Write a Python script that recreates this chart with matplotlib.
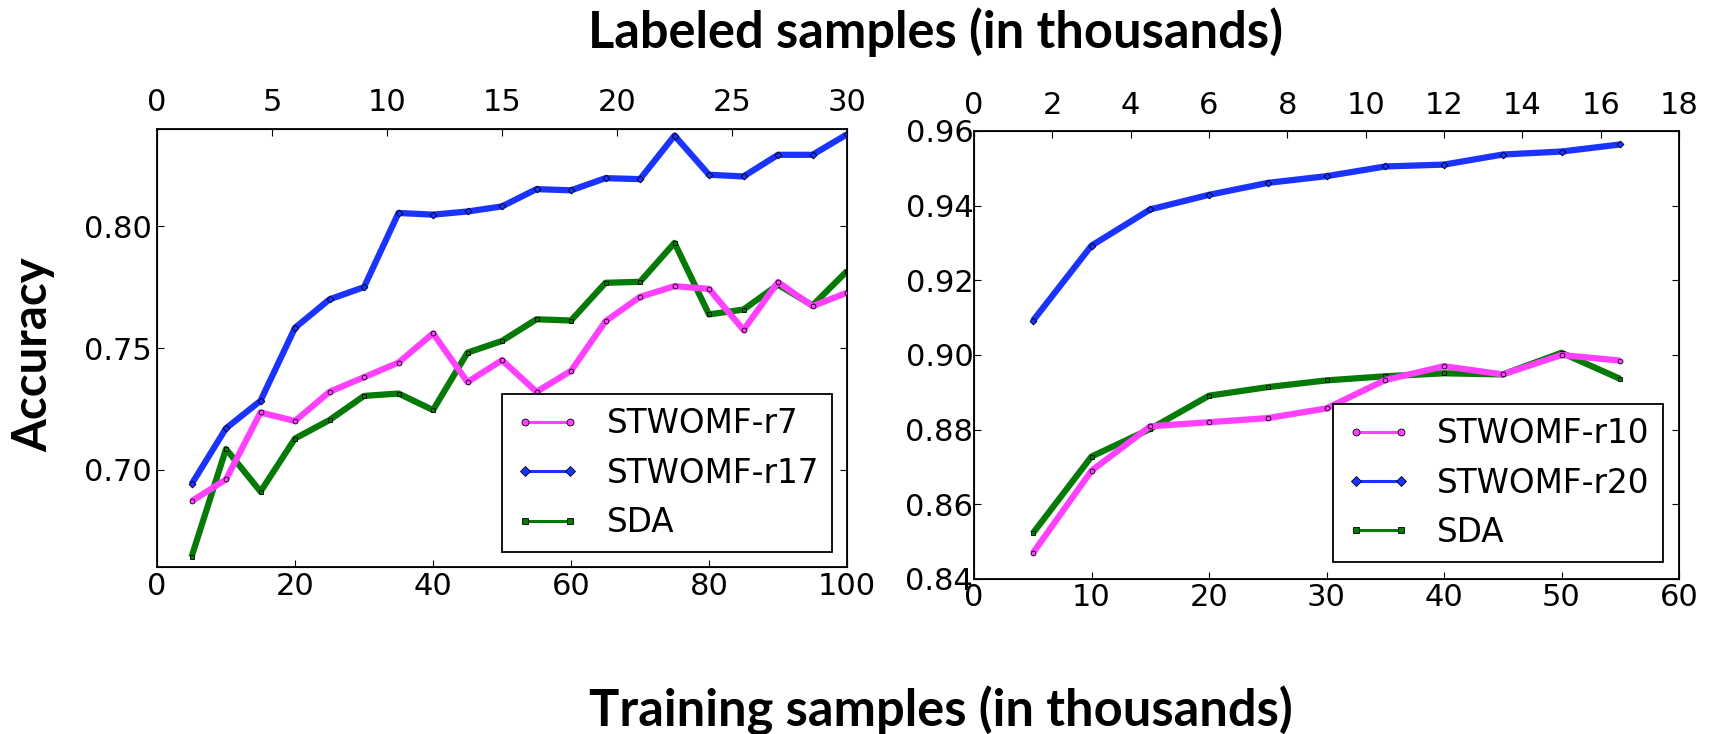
import matplotlib
matplotlib.use('Agg')
import matplotlib.pyplot as plt
from matplotlib.lines import Line2D

# ---------------- data ----------------
# Left panel: training samples (thousands)
train_left = [5, 10, 15, 20, 25, 30, 35, 40, 45, 50, 55, 60, 65, 70, 75, 80, 85, 90, 95, 100]
r7 = [0.687, 0.696, 0.7235, 0.720, 0.732, 0.738, 0.744, 0.756, 0.736, 0.745,
      0.732, 0.7406, 0.761, 0.771, 0.7754, 0.7743, 0.7574, 0.7771, 0.7672, 0.7727]
r17 = [0.694, 0.717, 0.7283, 0.7583, 0.770, 0.775, 0.8055, 0.8048, 0.8061, 0.8082,
       0.8153, 0.8148, 0.8198, 0.8194, 0.8373, 0.8212, 0.8205, 0.8294, 0.8294, 0.8378]
sda_left = [0.6641, 0.7085, 0.691, 0.7128, 0.7204, 0.7303, 0.7313, 0.7245, 0.7481, 0.7529,
            0.7618, 0.7613, 0.7768, 0.7772, 0.7932, 0.7638, 0.7658, 0.776, 0.7675, 0.7816]
left_labels = ['STWOMF-r7', 'STWOMF-r17', 'SDA']
left_yticks = [0.70, 0.75, 0.80]
left_top_ticks = [0, 5, 10, 15, 20, 25, 30]
left_bottom_ticks = [0, 20, 40, 60, 80, 100]

# Right panel
train_right = [5, 10, 15, 20, 25, 30, 35, 40, 45, 50, 55]
r10 = [0.8469, 0.869, 0.8809, 0.882, 0.8831, 0.8857, 0.8933, 0.897, 0.8948, 0.900, 0.8985]
r20 = [0.9091, 0.9293, 0.939, 0.9429, 0.9461, 0.9479, 0.9505, 0.951, 0.9537, 0.9545, 0.9564]
sda_right = [0.8522, 0.8728, 0.8802, 0.8891, 0.8914, 0.8932, 0.8943, 0.8951, 0.8948, 0.9006, 0.8936]
right_labels = ['STWOMF-r10', 'STWOMF-r20', 'SDA']
right_yticks = [0.84, 0.86, 0.88, 0.90, 0.92, 0.94, 0.96]
right_top_ticks = [0, 2, 4, 6, 8, 10, 12, 14, 16, 18]
right_bottom_ticks = [0, 10, 20, 30, 40, 50, 60]

title_top = 'Labeled samples (in thousands)'
title_bottom = 'Training samples (in thousands)'
ylabel = 'Accuracy'

# ---------------- style ----------------
C_MAG = '#ff40ff'
C_BLUE = '#1a33ff'
C_GREEN = '#067a06'
LW = 4.5
MS = 3.5
TICK_FS = 22
LEG_FS = 23.5

W, H = 1721, 734
fig = plt.figure(figsize=(W / 100, H / 100), dpi=100)
fig.patch.set_facecolor('white')


def px_axes(x0, y0, x1, y1):
    return fig.add_axes([x0 / W, 1 - y1 / H, (x1 - x0) / W, (y1 - y0) / H])


def style_axes(ax, ypad, bpad):
    for s in ax.spines.values():
        s.set_linewidth(1.3)
    ax.tick_params(axis='both', direction='in', length=5, width=0.8,
                   labelsize=TICK_FS, top=False, right=True)
    ax.tick_params(axis='y', pad=ypad)
    ax.tick_params(axis='x', pad=bpad)


def panel(ax, x, series, labels, colors, markers, zorders):
    for y, lab, c, m, z in zip(series, labels, colors, markers, zorders):
        ax.plot(x, y, color=c, lw=LW, marker=m, ms=MS, mfc=c, mec='black',
                mew=0.6, zorder=z, solid_capstyle='butt')
    handles = [Line2D([0], [0], color=c, lw=2.2, marker=m, ms=5, mfc=c,
                      mec='black', mew=0.6) for c, m in zip(colors, markers)]
    return handles


def make_legend(ax, handles, labels, anchor):
    leg = ax.legend(handles, labels, loc='lower right', bbox_to_anchor=anchor,
                    borderaxespad=0, fontsize=LEG_FS, numpoints=2, handlelength=2.0,
                    handletextpad=0.8, borderpad=0.4, labelspacing=0.5, fancybox=False,
                    framealpha=1)
    leg.get_frame().set_edgecolor('black')
    leg.get_frame().set_linewidth(1.3)
    leg.set_zorder(10)
    return leg


colors = [C_MAG, C_BLUE, C_GREEN]
markers = ['o', 'D', 's']
zorders = [4, 3, 2]

# ---- left panel ----
axL = px_axes(157, 129, 847, 567)
hL = panel(axL, train_left, [r7, r17, sda_left], left_labels, colors, markers, zorders)
axL.set_xlim(0, 100)
axL.set_ylim(0.66, 0.84)
axL.set_yticks(left_yticks)
axL.set_yticklabels(['%.2f' % v for v in left_yticks])
axL.set_xticks(left_bottom_ticks)
style_axes(axL, ypad=4, bpad=3.5)
make_legend(axL, hL, left_labels, (0.978, 0.034))
topL = axL.twiny()
topL.set_xlim(0, 30)
topL.set_xticks(left_top_ticks)
topL.tick_params(axis='x', direction='in', length=5, width=0.8, labelsize=TICK_FS, pad=8.5)

# ---- right panel ----
axR = px_axes(974, 131, 1679, 579)
hR = panel(axR, train_right, [r10, r20, sda_right], right_labels, colors, markers, zorders)
axR.set_xlim(0, 60)
axR.set_ylim(0.84, 0.96)
axR.set_yticks(right_yticks)
axR.set_yticklabels(['%.2f' % v for v in right_yticks])
axR.set_xticks(right_bottom_ticks)
style_axes(axR, ypad=0.5, bpad=3)
make_legend(axR, hR, right_labels, (0.977, 0.038))
topR = axR.twiny()
topR.set_xlim(0, 18)
topR.set_xticks(right_top_ticks)
topR.tick_params(axis='x', direction='in', length=5, width=0.8, labelsize=TICK_FS, pad=8)

# ---- figure-level texts ----
tfont = dict(family='Lato', weight='bold')
t1 = fig.text(936 / W, 1 - 32 / H, title_top, ha='center', va='center', fontsize=30, **tfont)
t2 = fig.text(941 / W, 1 - 711 / H, title_bottom, ha='center', va='center', fontsize=30, **tfont)
t3 = fig.text(33 / W, 1 - 355 / H, ylabel, ha='center', va='center', rotation=90,
              fontsize=30, **tfont)

fig.canvas.draw()
r = fig.canvas.get_renderer()
for t, target, dim in [(t1, 693, 'w'), (t2, 704, 'w'), (t3, 194, 'h')]:
    bb = t.get_window_extent(r)
    cur = bb.width if dim == 'w' else bb.height
    t.set_fontsize(t.get_fontsize() * target / cur)

fig.savefig('out.png', dpi=100, facecolor='white')
